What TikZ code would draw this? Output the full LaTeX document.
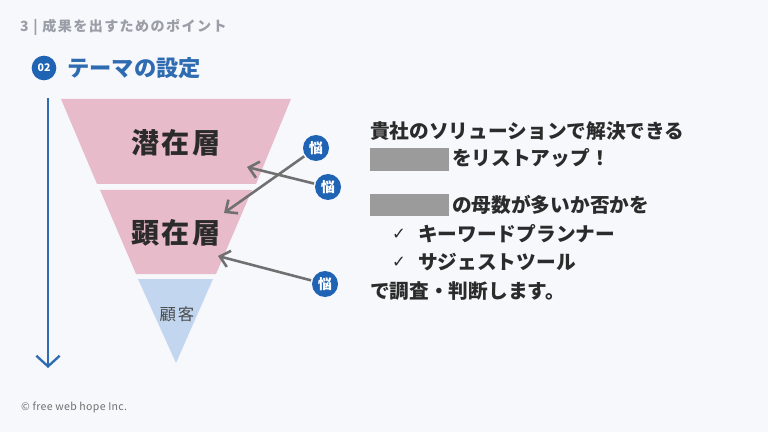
\documentclass[tikz,border=0pt]{standalone}
\usepackage{fontspec}
\usepackage{xcolor}
\usetikzlibrary{arrows.meta,positioning}
\setmainfont{Noto Sans CJK JP}
\newfontfamily\symfont{DejaVu Sans}
\definecolor{pagebg}{HTML}{F7F8FC}
\definecolor{funpink}{HTML}{E8BBCA}
\definecolor{funblue}{HTML}{C2D6F0}
\definecolor{mainblue}{HTML}{2E6BB0}
\definecolor{iconblue}{HTML}{1F63B5}
\definecolor{inkgray}{HTML}{707070}
\definecolor{headgray}{HTML}{9A9EA6}
\definecolor{maskgray}{HTML}{9B9B9B}
\definecolor{inkdark}{HTML}{2B2B2B}
\tikzset{
  wicon/.style={circle,fill=iconblue,text=white,inner sep=0pt,minimum size=0.78cm,font=\fontsize{12}{12}\selectfont\bfseries},
  warr/.style={-{Straight Barb[length=2.8mm,width=5mm]},line width=2.2pt,draw=inkgray,shorten <=1pt},
  layer/.style={text=inkdark,inner sep=0pt,font=\fontsize{24}{24}\selectfont\bfseries\addfontfeature{LetterSpace=8}},
  body/.style={anchor=west,inner sep=0pt,text=inkdark,font=\fontsize{16.8}{20}\selectfont\bfseries},
  mask/.style={fill=maskgray,inner sep=0pt,minimum width=2.37cm,minimum height=0.68cm},
  tick/.style={anchor=west,inner sep=0pt,text=inkdark,font=\symfont\fontsize{14}{14}\selectfont}
}

\begin{document}
\begin{tikzpicture}[x=0.03cm,y=-0.03cm]
  \fill[pagebg] (0,0) rectangle (768,432);
  \useasboundingbox (0,0) rectangle (768,432);
  % heading
  \node[anchor=west,inner sep=0pt,text=headgray,font=\fontsize{12}{12}\selectfont\bfseries\addfontfeature{LetterSpace=10}] (head) at (20,27) {3 | 成果を出すためのポイント};
  \node[circle,fill=iconblue,text=white,inner sep=0pt,minimum size=0.74cm,font=\fontsize{9}{9}\selectfont\bfseries] (num) at (44,68) {02};
  \node[anchor=west,inner sep=0pt,text=mainblue,font=\fontsize{19}{19}\selectfont\bfseries] (ttl) at (67,68) {テーマの設定};
  % funnel
  \coordinate (vtop) at (48,98);
  \coordinate (vbot) at (48,368);
  \draw[-{Straight Barb[length=3.2mm,width=7mm]},line width=2pt,mainblue] (vtop) -- (vbot);
  \fill[funpink] (61,99) -- (291,99) -- (256,184) -- (97,184) -- cycle;
  \fill[funpink] (100,190) -- (252,190) -- (216,274) -- (136,274) -- cycle;
  \fill[funblue] (138,279) -- (213,279) -- (176,363) -- cycle;
  \node[layer] (sen) at (176,143) {潜在層};
  \node[layer] (ken) at (176,233) {顕在層};
  \node[text=inkdark!85,inner sep=0pt,font=\fontsize{14}{14}\selectfont\addfontfeature{LetterSpace=12}] (kok) at (177,314) {顧客};
  % worries
  \node[wicon] (w1) at (316,148) {悩};
  \node[wicon] (w2) at (328,187) {悩};
  \node[wicon] (w3) at (325,284) {悩};
  \coordinate (t1) at (224,213);
  \coordinate (t2) at (247,167);
  \coordinate (t3) at (218,256);
  \draw[warr] (w1) -- (t1);
  \draw[warr] (w2) -- (t2);
  \draw[warr] (w3) -- (t3);
  % right text
  \node[body] (l1) at (370,131) {貴社のソリューションで解決できる};
  \node[mask] (m1) at (409.5,159.5) {};
  \node[body] (l2) at (452,158) {をリストアップ！};
  \node[mask] (m2) at (409.5,205) {};
  \node[body] (l3) at (452,205) {の母数が多いか否かを};
  \node[tick] (c1) at (392,234) {✓};
  \node[body] (l4) at (418,234) {キーワードプランナー};
  \node[tick] (c2) at (392,262) {✓};
  \node[body] (l5) at (418,262) {サジェストツール};
  \node[body] (l6) at (370,291) {で調査・判断します。};
  \node[anchor=west,inner sep=0pt,text=inkgray,font=\fontsize{9}{9}\selectfont\addfontfeature{LetterSpace=3}] (foot) at (21,407) {© free web hope Inc.};
\end{tikzpicture}
\end{document}
